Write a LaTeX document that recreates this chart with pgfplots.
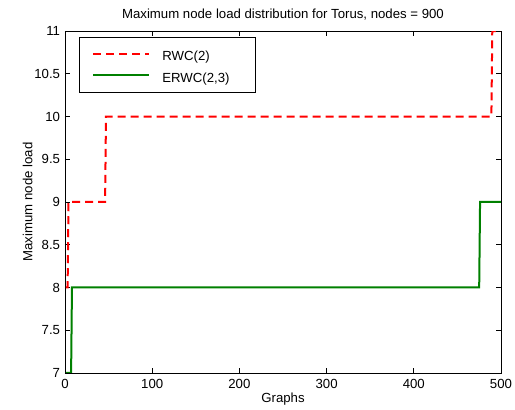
\documentclass[border=0pt]{standalone}
\usepackage{fontspec}
\setmainfont{Liberation Sans}
\usepackage{pgfplots}
\pgfplotsset{compat=1.18}
\definecolor{mred}{RGB}{255,0,0}
\definecolor{mgreen}{RGB}{0,128,0}
\begin{document}
\begin{tikzpicture}
\begin{axis}[
  name=ax,
  scale only axis,
  width=327pt, height=256.5pt,
  xmin=0, xmax=500, ymin=7, ymax=11,
  xtick={0,100,...,500},
  ytick={7,7.5,...,11},
  yticklabels={7,7.5,8,8.5,9,9.5,10,10.5,11},
  tick align=inside,
  major tick length=3.5pt,
  tick style={black, line width=0.5pt},
  axis line style={line width=0.5pt},
  /pgf/number format/assume math mode=true,
  tick label style={font=\fontsize{9.9}{11}\selectfont},
  xticklabel style={anchor=base, yshift=-12pt},
  yticklabel style={anchor=east, inner sep=0pt, xshift=-3.5pt},
  label style={font=\fontsize{9.9}{11}\selectfont},
  title style={font=\fontsize{9.9}{11}\selectfont, at={(rel axis cs:0.5,1)}, anchor=base, yshift=3.75pt, inner sep=0pt},
  title={Maximum node load distribution for Torus, nodes = 900},
  xlabel={Graphs}, ylabel={Maximum node load},
  xlabel style={at={(rel axis cs:0.5,0)}, anchor=base, yshift=-22.5pt, inner sep=0pt},
  ylabel style={at={(rel axis cs:0,0.5)}, anchor=base, yshift=24.5pt, inner sep=0pt},
  legend style={at={(rel axis cs:0.0322,0.982)}, anchor=north west,
    font=\fontsize{9.9}{11}\selectfont, draw=black, line width=0.5pt,
    inner xsep=9.75pt, inner ysep=7.4pt, row sep=6.1pt, column sep=0pt,
    nodes={inner sep=0pt, text height=10pt, text depth=0pt},
    legend cell align=left},
  legend image code/.code={\draw[#1] (0pt,0pt) -- (42pt,0pt); \path (51pt,0pt);},
]
\addplot[mred, line width=1.5pt, dash pattern=on 6pt off 3.75pt] coordinates {
 (1,8) (3,8) (4,9) (46,9) (47,10) (489,10) (490,11) (500,11)};
\addlegendentry{\makebox[60pt][l]{RWC(2)}}
\addplot[mgreen, line width=1.5pt] coordinates {
 (1,7) (7,7) (8,8) (475,8) (476,9) (500,9)};
\addlegendentry{\makebox[60pt][l]{ERWC(2,3)}}
\end{axis}
\pgfresetboundingbox
\path[use as bounding box] ([xshift=-48.75pt,yshift=-27.75pt]ax.south west) rectangle ++(386.25pt,307.5pt);
\end{tikzpicture}
\end{document}
